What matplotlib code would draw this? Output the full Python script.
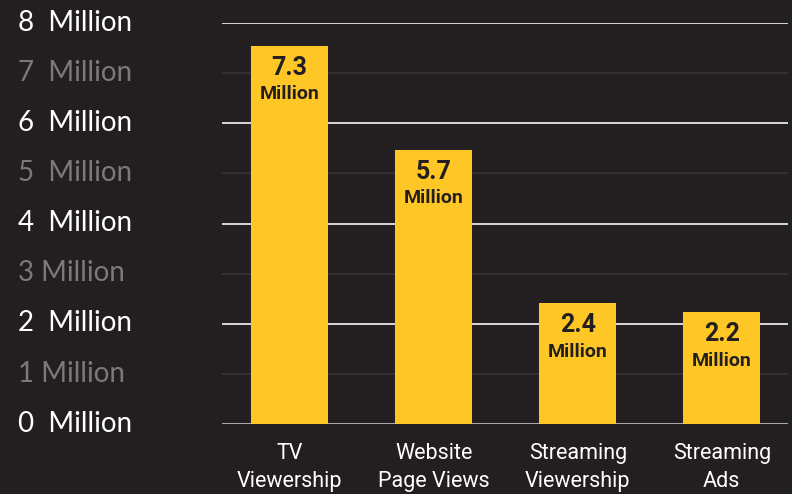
import matplotlib.pyplot as plt
from matplotlib.transforms import ScaledTranslation

categories = ["TV\nViewership", "Website\nPage Views", "Streaming\nViewership", "Streaming\nAds"]
bar_heights = [7.55, 5.47, 2.41, 2.23]
value_labels = ["7.3", "5.7", "2.4", "2.2"]
y_ticks = [0, 1, 2, 3, 4, 5, 6, 7, 8]
y_tick_labels = ["0  Million", "1 Million", "2  Million", "3 Million", "4  Million",
                 "5  Million", "6  Million", "7  Million", "8  Million"]

bg = "#231f20"
yellow = "#ffc726"

fig = plt.figure(figsize=(7.92, 4.94), dpi=100, facecolor=bg)
ax = fig.add_axes([0.2803, 0.1417, 0.7147, 0.8117], facecolor=bg)

x = range(len(categories))
ax.bar(x, bar_heights, width=0.535, color=yellow, zorder=3)

for i, (h, lab) in enumerate(zip(bar_heights, value_labels)):
    ax.annotate(lab, (i, h), xytext=(0, -16), textcoords="offset points",
                ha="center", va="center", fontsize=18, fontweight="bold",
                family="Roboto", color=bg, zorder=4)
    ax.annotate("Million", (i, h), xytext=(0, -35), textcoords="offset points",
                ha="center", va="center", fontsize=14, fontweight="bold",
                family="Roboto", color=bg, zorder=4)

# gridlines: even ones bright, odd ones dim
for t in y_ticks:
    if t == 0:
        ax.axhline(t, color="#a8a8a8", lw=2.2, zorder=2)
    elif t % 2 == 0:
        ax.axhline(t, color="#e6e6e6", lw=1.3, zorder=2)
    else:
        ax.axhline(t, color="#363233", lw=1.3, zorder=2)

ax.set_xlim(-0.47, 3.46)
ax.set_ylim(0, 8)
ax.set_yticks(y_ticks)
ax.set_yticklabels(y_tick_labels, family="Lato", fontsize=20)
ax.tick_params(axis="y", length=0, pad=147)
shift = ScaledTranslation(0, 2 / 72, fig.dpi_scale_trans)
for t, lab in zip(y_ticks, ax.get_yticklabels()):
    lab.set_horizontalalignment("left")
    lab.set_transform(lab.get_transform() + shift)
    lab.set_color("#ffffff" if t % 2 == 0 else "#7a7a7a")

ax.set_xticks(list(x))
ax.set_xticklabels(categories, family="Roboto", fontsize=15.5, color="#ffffff",
                   linespacing=1.4)
ax.tick_params(axis="x", length=0, pad=14)

for s in ax.spines.values():
    s.set_visible(False)

fig.savefig("out.png", dpi=100, facecolor=bg)
